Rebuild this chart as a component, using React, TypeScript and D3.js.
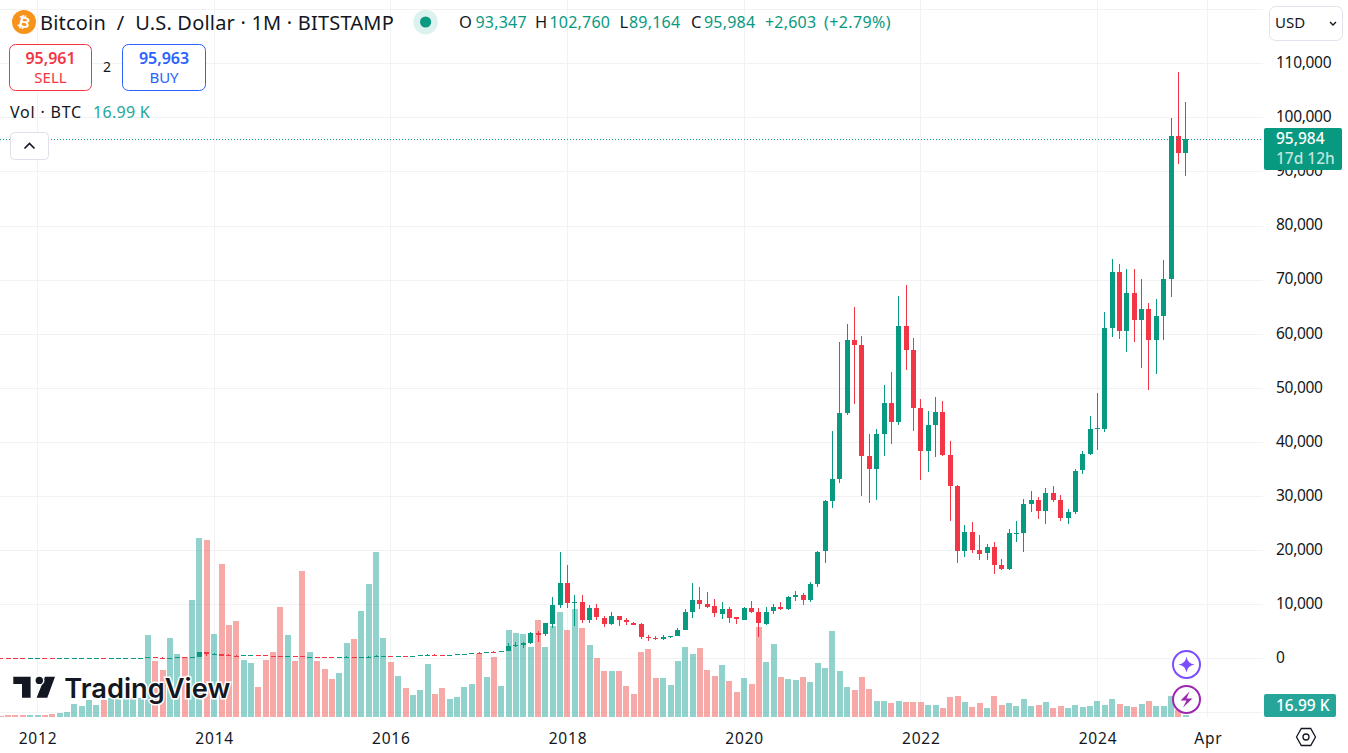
import { useEffect, useRef } from "react";
import * as d3 from "d3";

const FONT = "'Noto Sans', sans-serif";
const GREEN = "#089981";
const RED = "#f23645";
const VOL_LABEL = "#26a69a";
const GRID = "#f2f2f4";
const INK = "#131722";

// monthly bars, Aug 2011 to Jan 2025
const opens = [
  11, 8.5, 5.1, 3.2, 3,
  4.7, 5.5, 4.9, 4.87, 5, 5.1, 6.7, 9, 10, 12.4, 10.6, 12.5,
  13.5, 20, 33, 93, 139, 129, 97, 106, 135, 133, 204, 1120,
  732, 829, 550, 450, 445, 628, 640, 585, 480, 385, 338, 378,
  320, 217, 254, 244, 236, 230, 263, 284, 230, 236, 314, 377,
  430, 368, 437, 416, 448, 531, 673, 624, 575, 609, 700, 742,
  966, 965, 1190, 1080, 1350, 2300, 2490, 2870, 4700, 4340, 6450, 9900,
  13880, 10220, 10320, 6930, 9240, 7500, 6300, 7750, 7000, 6600, 6300, 3950,
  3700, 3430, 3830, 4100, 5280, 8570, 10800, 10080, 9600, 8290, 9150, 7550,
  7190, 9350, 8520, 6410, 8620, 9440, 9135, 11340, 11650, 10780, 13800, 19700,
  29000, 33100, 45300, 58800, 57900, 37300, 34900, 41400, 47200, 43700, 61400, 57000,
  46300, 38300, 43100, 45500, 37500, 31800, 19800, 23300, 20000, 19300, 20500, 17200,
  16500, 23100, 23100, 28500, 29300, 27200, 30500, 29200, 25900, 27000, 34650, 37700,
  42300, 42500, 61100, 71400, 60500, 67500, 62500, 64600, 58900, 63300, 70100, 96500,
  93347,
];
const highs = [
  13, 9, 5.5, 3.5, 4.8,
  7, 6, 5.4, 5.3, 5.2, 6.7, 9.5, 15, 12.5, 12.8, 13, 13.8,
  21, 33, 95, 260, 140, 130, 107, 135, 146, 240, 1163, 1153,
  1030, 840, 710, 540, 630, 680, 660, 600, 495, 415, 460, 382,
  320, 265, 300, 262, 247, 270, 318, 285, 260, 334, 503, 469,
  465, 448, 444, 468, 552, 765, 704, 626, 615, 735, 780, 982,
  1160, 1210, 1280, 1355, 2800, 2990, 2990, 4900, 5000, 6480, 11400, 19700,
  17200, 11700, 11700, 9800, 10000, 7800, 8500, 7800, 7400, 6700, 6500, 4200,
  4050, 4200, 4110, 5650, 9100, 13900, 13150, 12300, 10950, 10350, 9500, 7700,
  9500, 10500, 9200, 9450, 10050, 10400, 11450, 12500, 12050, 14100, 19850, 29300,
  42000, 58400, 61800, 64900, 59600, 41400, 42400, 50500, 52900, 67000, 69000, 59200,
  47900, 45800, 48300, 47500, 40100, 32000, 24600, 25200, 22800, 21100, 21500, 18300,
  23900, 25300, 29400, 31000, 29800, 31400, 31800, 30200, 27500, 35000, 38400, 44800,
  49000, 64000, 73800, 72800, 72000, 72000, 70100, 65600, 66500, 73600, 99800, 108400,
  102760,
];
const lows = [
  7, 4.5, 2, 2, 2.8,
  4.5, 4, 4.5, 4.7, 4.9, 5.1, 6.5, 7, 9.8, 10, 10.4, 12.5,
  13, 19, 33, 70, 78, 65, 65, 95, 115, 100, 200, 400,
  710, 400, 440, 340, 420, 530, 565, 440, 360, 275, 320, 300,
  152, 212, 236, 215, 228, 218, 254, 162, 225, 236, 306, 345,
  350, 363, 394, 414, 435, 531, 602, 470, 565, 605, 695, 740,
  750, 915, 890, 1075, 1300, 2050, 1850, 2700, 2950, 4100, 5500, 9300,
  9300, 5900, 6500, 6500, 7000, 5750, 6100, 5900, 6100, 6200, 3550, 3100,
  3350, 3380, 3700, 4090, 5200, 7450, 9100, 9350, 7700, 7300, 6500, 6400,
  7000, 8450, 3850, 6150, 8100, 8900, 8950, 10550, 9850, 10400, 13200, 17600,
  27800, 32400, 45000, 47000, 30000, 28700, 29300, 37400, 39600, 43200, 53300, 42000,
  32900, 34400, 37200, 37400, 25400, 17600, 18700, 19500, 18200, 18200, 15500, 16400,
  16400, 21400, 19600, 27000, 25800, 24800, 28900, 25300, 24900, 26600, 34100, 37600,
  38500, 41800, 59300, 59000, 56600, 58500, 53700, 49600, 52600, 58900, 66800, 91300,
  89164,
];
const closes = [
  8.5, 5.1, 3.2, 3, 4.7,
  5.5, 4.9, 4.87, 5, 5.1, 6.7, 9, 10, 12.4, 10.6, 12.5, 13.5,
  20, 33, 93, 139, 129, 97, 106, 135, 133, 204, 1120, 732,
  829, 550, 450, 445, 628, 640, 585, 480, 385, 338, 378, 320,
  217, 254, 244, 236, 230, 263, 284, 230, 236, 314, 377, 430,
  368, 437, 416, 448, 531, 673, 624, 575, 609, 700, 742, 966,
  965, 1190, 1080, 1350, 2300, 2490, 2870, 4700, 4340, 6450, 9900, 13880,
  10220, 10320, 6930, 9240, 7500, 6300, 7750, 7000, 6600, 6300, 3950, 3700,
  3430, 3830, 4100, 5280, 8570, 10800, 10080, 9600, 8290, 9150, 7550, 7190,
  9350, 8520, 6410, 8620, 9440, 9135, 11340, 11650, 10780, 13800, 19700, 29000,
  33100, 45300, 58800, 57900, 37300, 34900, 41400, 47200, 43700, 61400, 57000, 46300,
  38300, 43100, 45500, 37500, 31800, 19800, 23300, 20000, 19300, 20500, 17200, 16500,
  23100, 23100, 28500, 29300, 27200, 30500, 29200, 25900, 27000, 34650, 37700, 42300,
  42500, 61100, 71400, 60500, 67500, 62500, 64600, 58900, 63300, 70100, 96500, 93347,
  95984,
];
// thousands of BTC
const volumes = [
  7, 18, 18, 18, 18,
  18, 18, 30, 41, 52, 141, 118, 185, 130, 185, 204, 204,
  204, 204, 204, 907, 618, 518, 873, 696, 662, 1295, 1983, 1961,
  918, 1695, 1018, 1062, 629, 596, 329, 629, 718, 1217, 907, 618,
  1617, 718, 618, 529, 418, 485, 818, 862, 1173, 1473, 1828, 873,
  607, 451, 318, 241, 296, 585, 252, 318, 196, 218, 329, 363,
  699, 440, 662, 340, 962, 929, 918, 773, 1073, 773, 1006, 1162,
  962, 1195, 984, 796, 651, 507, 507, 507, 340, 252, 718, 751,
  429, 429, 352, 618, 773, 696, 762, 518, 451, 574, 396, 274,
  429, 363, 995, 607, 807, 440, 418, 407, 440, 385, 596, 540,
  951, 507, 329, 296, 440, 307, 174, 174, 152, 174, 163, 163,
  163, 130, 130, 96, 218, 229, 163, 107, 152, 96, 229, 130,
  152, 118, 196, 118, 130, 163, 96, 118, 96, 130, 107, 118,
  174, 130, 196, 141, 118, 107, 141, 174, 118, 118, 229, 74,
  17,
];

const priceTicks = [110000, 100000, 90000, 80000, 70000, 60000, 50000, 40000, 30000, 20000, 10000, 0];
const gridPrices = [120000, ...priceTicks, -10000];
const timeTickBars = [5, 29, 53, 77, 101, 125, 149, 164];
const timeTickLabels = ["2012", "2014", "2016", "2018", "2020", "2022", "2024", "Apr"];

const lastPrice = 95984;
const legendOHLC = [
  { label: "O", x: 459, value: "93,347", vx: 475.5 },
  { label: "H", x: 535, value: "102,760", vx: 549.5 },
  { label: "L", x: 619.5, value: "89,164", vx: 629 },
  { label: "C", x: 691, value: "95,984", vx: 704 },
];

export default function App() {
  const svgRef = useRef<SVGSVGElement>(null);

  useEffect(() => {
    if (!svgRef.current) return;

    const svg = d3.select(svgRef.current);
    svg.selectAll("*").remove();

    const width = 1348;
    const height = 753;
    const paneRight = 1263;
    const paneBottom = 717;

    const x = d3.scaleLinear().domain([5, 161]).range([37.5, 1185.8]);
    const y = d3.scaleLinear().domain([0, 110000]).range([658.2, 63.3]);
    const volY = d3.scaleLinear().domain([0, 2000]).range([716.7, 536.7]);

    const addText = (
      txt: string,
      tx: number,
      ty: number,
      size: number,
      fill: string,
      extra: Record<string, string | number> = {}
    ) => {
      const t = svg
        .append("text")
        .attr("x", tx)
        .attr("y", ty)
        .attr("font-size", size)
        .attr("fill", fill)
        .text(txt);
      Object.entries(extra).forEach(([k, v]) => t.attr(k, v));
      return t;
    };

    // Grid
    const grid = svg.append("g").attr("shape-rendering", "crispEdges").attr("stroke", GRID);
    grid
      .selectAll("line.h")
      .data(gridPrices)
      .join("line")
      .attr("class", "h")
      .attr("x1", 0)
      .attr("x2", paneRight)
      .attr("y1", (d) => Math.round(y(d)) + 0.5)
      .attr("y2", (d) => Math.round(y(d)) + 0.5);
    grid
      .selectAll("line.v")
      .data(timeTickBars)
      .join("line")
      .attr("class", "v")
      .attr("y1", 0)
      .attr("y2", paneBottom)
      .attr("x1", (d) => Math.floor(x(d)) + 0.5)
      .attr("x2", (d) => Math.floor(x(d)) + 0.5);

    const isUp = (i: number) => closes[i] >= opens[i];

    // Volume
    svg
      .append("g")
      .attr("shape-rendering", "crispEdges")
      .selectAll("rect")
      .data(volumes)
      .join("rect")
      .attr("x", (d, i) => Math.round(x(i) - 3))
      .attr("width", 6)
      .attr("y", (d) => volY(d))
      .attr("height", (d) => volY(0) - volY(d))
      .attr("fill", (d, i) => (isUp(i) ? "#26a69a" : "#ef5350"))
      .attr("fill-opacity", 0.5);

    // Candles
    const candles = svg
      .append("g")
      .attr("shape-rendering", "crispEdges")
      .selectAll("g")
      .data(closes)
      .join("g")
      .attr("fill", (d, i) => (isUp(i) ? GREEN : RED));
    candles
      .append("rect")
      .attr("x", (d, i) => Math.floor(x(i)))
      .attr("width", 1)
      .attr("y", (d, i) => y(highs[i]))
      .attr("height", (d, i) => Math.max(1, y(lows[i]) - y(highs[i])));
    candles
      .append("rect")
      .attr("x", (d, i) => Math.floor(x(i)) - 2)
      .attr("width", 5)
      .attr("y", (d, i) => Math.round(y(Math.max(opens[i], closes[i]))))
      .attr("height", (d, i) => Math.max(1, Math.round(Math.abs(y(opens[i]) - y(closes[i])))));

    // Last price line
    svg
      .append("line")
      .attr("x1", 0)
      .attr("x2", paneRight)
      .attr("y1", Math.round(y(lastPrice)) + 0.5)
      .attr("y2", Math.round(y(lastPrice)) + 0.5)
      .attr("stroke", GREEN)
      .attr("stroke-dasharray", "1 2")
      .attr("shape-rendering", "crispEdges");

    // Axes
    const priceAxis = svg
      .append("g")
      .attr("transform", "translate(1276,-0.6)")
      .call(
        d3
          .axisRight(y)
          .tickValues(priceTicks)
          .tickSize(0)
          .tickPadding(0)
          .tickFormat((d) => d3.format(",")(d as number))
      );
    priceAxis.select(".domain").remove();
    priceAxis
      .selectAll("text")
      .attr("font-size", 15.5)
      .attr("letter-spacing", -0.3)
      .attr("font-family", FONT)
      .attr("fill", INK);

    const timeAxis = svg
      .append("g")
      .attr("transform", "translate(0,732.6)")
      .call(
        d3
          .axisBottom(x)
          .tickValues(timeTickBars)
          .tickSize(0)
          .tickPadding(0)
          .tickFormat((d, i) => timeTickLabels[i])
      );
    timeAxis.select(".domain").remove();
    timeAxis
      .selectAll("text")
      .attr("font-size", 15.5)
      .attr("letter-spacing", 0.8)
      .attr("font-family", FONT)
      .attr("fill", INK);

    // Price labels
    svg
      .append("rect")
      .attr("x", 1264)
      .attr("y", 128)
      .attr("width", 78)
      .attr("height", 42)
      .attr("rx", 2)
      .attr("fill", GREEN);
    addText("95,984", 1276, 144, 15.5, "#fff", { "font-weight": 500 });
    addText("17d 12h", 1276, 163.5, 15.5, "#fff", { "font-weight": 500, "fill-opacity": 0.75 });
    svg
      .append("rect")
      .attr("x", 1264)
      .attr("y", 694)
      .attr("width", 72)
      .attr("height", 23)
      .attr("rx", 2)
      .attr("fill", VOL_LABEL);
    addText("16.99 K", 1276, 711, 15.5, "#fff", { "font-weight": 500 });

    // Header
    svg.append("circle").attr("cx", 24).attr("cy", 22).attr("r", 12).attr("fill", "#f7931a");
    addText("₿", 24, 27.5, 15, "#fff", {
      "text-anchor": "middle",
      "font-family": "'DejaVu Sans', sans-serif",
      "font-weight": 700,
      transform: "rotate(14 24 22)",
    });
    addText("Bitcoin  /  U.S. Dollar · 1M · BITSTAMP", 40, 29.5, 20, INK, {
      "letter-spacing": 0.2,
    }).style("white-space", "pre");
    svg.append("circle").attr("cx", 425.6).attr("cy", 22).attr("r", 12.3).attr("fill", "#dcf2ee");
    svg.append("circle").attr("cx", 425.6).attr("cy", 22).attr("r", 5.6).attr("fill", GREEN);

    legendOHLC.forEach((d) => {
      addText(d.label, d.x, 28, 16.5, INK);
      addText(d.value, d.vx, 28, 16, GREEN, { "letter-spacing": 0.2 });
    });
    addText("+2,603", 765, 28, 16, GREEN, { "letter-spacing": 0.2 });
    addText("(+2.79%)", 824, 28, 16, GREEN, { "letter-spacing": 0.4 });

    // Sell and buy boxes
    svg
      .append("rect")
      .attr("x", 9.5)
      .attr("y", 44.5)
      .attr("width", 82)
      .attr("height", 46)
      .attr("rx", 6)
      .attr("fill", "#fff")
      .attr("stroke", RED);
    addText("95,961", 50.5, 64, 16, RED, { "text-anchor": "middle", "font-weight": 600 });
    addText("SELL", 50.5, 83.3, 15, RED, { "text-anchor": "middle" });
    addText("2", 107, 72.3, 14, INK, { "text-anchor": "middle" });
    svg
      .append("rect")
      .attr("x", 122.5)
      .attr("y", 44.5)
      .attr("width", 83)
      .attr("height", 46)
      .attr("rx", 6)
      .attr("fill", "#fff")
      .attr("stroke", "#2962ff");
    addText("95,963", 164, 64, 16, "#2962ff", { "text-anchor": "middle", "font-weight": 600 });
    addText("BUY", 164, 83.3, 15, "#2962ff", { "text-anchor": "middle" });

    addText("Vol · BTC", 10, 118.3, 16, INK, { "letter-spacing": 0.8 });
    addText("16.99 K", 93, 118.3, 16, VOL_LABEL, { "letter-spacing": 0.3 });

    // Collapse button
    svg
      .append("rect")
      .attr("x", 10.5)
      .attr("y", 132.5)
      .attr("width", 38)
      .attr("height", 27)
      .attr("rx", 4)
      .attr("fill", "#fff")
      .attr("stroke", "#e0e0ea");
    svg
      .append("path")
      .attr("d", "M24.5 148.5l5-5 5 5")
      .attr("fill", "none")
      .attr("stroke", INK)
      .attr("stroke-width", 1.6);

    // Currency button
    svg
      .append("rect")
      .attr("x", 1269.5)
      .attr("y", 6.5)
      .attr("width", 73)
      .attr("height", 34)
      .attr("rx", 6)
      .attr("fill", "#fff")
      .attr("stroke", "#e0e3eb");
    addText("USD", 1275, 27.5, 15, INK);
    svg
      .append("path")
      .attr("d", "M1330 22l3 3 3-3")
      .attr("fill", "none")
      .attr("stroke", INK)
      .attr("stroke-width", 1.4);

    // TradingView mark
    const logo = svg.append("g").attr("transform", "translate(13.3,676.7)");
    logo
      .append("path")
      .attr("d", "M0 0H17.3V21H8.7V7.3H0Z M41.7 0L34 21H23.3L31.7 0Z")
      .attr("fill", INK)
      .attr("stroke", "#fff")
      .attr("stroke-width", 3)
      .attr("paint-order", "stroke");
    logo
      .append("circle")
      .attr("cx", 26)
      .attr("cy", 3.7)
      .attr("r", 3.7)
      .attr("fill", INK)
      .attr("stroke", "#fff")
      .attr("stroke-width", 3)
      .attr("paint-order", "stroke");
    addText("TradingView", 64.3, 697.7, 27.5, INK, {
      "font-family": "Inter, sans-serif",
      "font-weight": 600,
      stroke: "#fff",
      "stroke-width": 3,
      "paint-order": "stroke",
      textLength: 166,
      lengthAdjust: "spacingAndGlyphs",
    });

    // Bottom-right badges
    svg
      .append("circle")
      .attr("cx", 1186.5)
      .attr("cy", 664.5)
      .attr("r", 13.5)
      .attr("fill", "#fff")
      .attr("stroke", "#7b4dff")
      .attr("stroke-width", 2);
    svg
      .append("path")
      .attr("d", "M1186.5 656.5Q1187.5 663.5 1194.5 664.5Q1187.5 665.5 1186.5 672.5Q1185.5 665.5 1178.5 664.5Q1185.5 663.5 1186.5 656.5Z")
      .attr("fill", "#7b4dff");
    svg
      .append("circle")
      .attr("cx", 1186.5)
      .attr("cy", 699.5)
      .attr("r", 13.5)
      .attr("fill", "#fff")
      .attr("stroke", "#9c27b0")
      .attr("stroke-width", 2);
    svg
      .append("path")
      .attr("d", "M1189.5 691.5L1180.5 700.5H1186.5L1183 707.5L1192.5 698.5H1186.5Z")
      .attr("fill", "#9c27b0");

    // Settings hexagon
    svg
      .append("path")
      .attr("d", "M1296.5 737l4.8-8.5h9.4l4.8 8.5-4.8 8.5h-9.4z")
      .attr("fill", "none")
      .attr("stroke", INK)
      .attr("stroke-width", 1.3);
    svg
      .append("circle")
      .attr("cx", 1306)
      .attr("cy", 737)
      .attr("r", 3)
      .attr("fill", "none")
      .attr("stroke", INK)
      .attr("stroke-width", 1.3);

    svg.attr("viewBox", `0 0 ${width} ${height}`);
  }, []);

  return (
    <svg
      ref={svgRef}
      width={1348}
      height={753}
      style={{ position: "absolute", left: 0, top: 0, background: "#fff", fontFamily: FONT }}
    />
  );
}
